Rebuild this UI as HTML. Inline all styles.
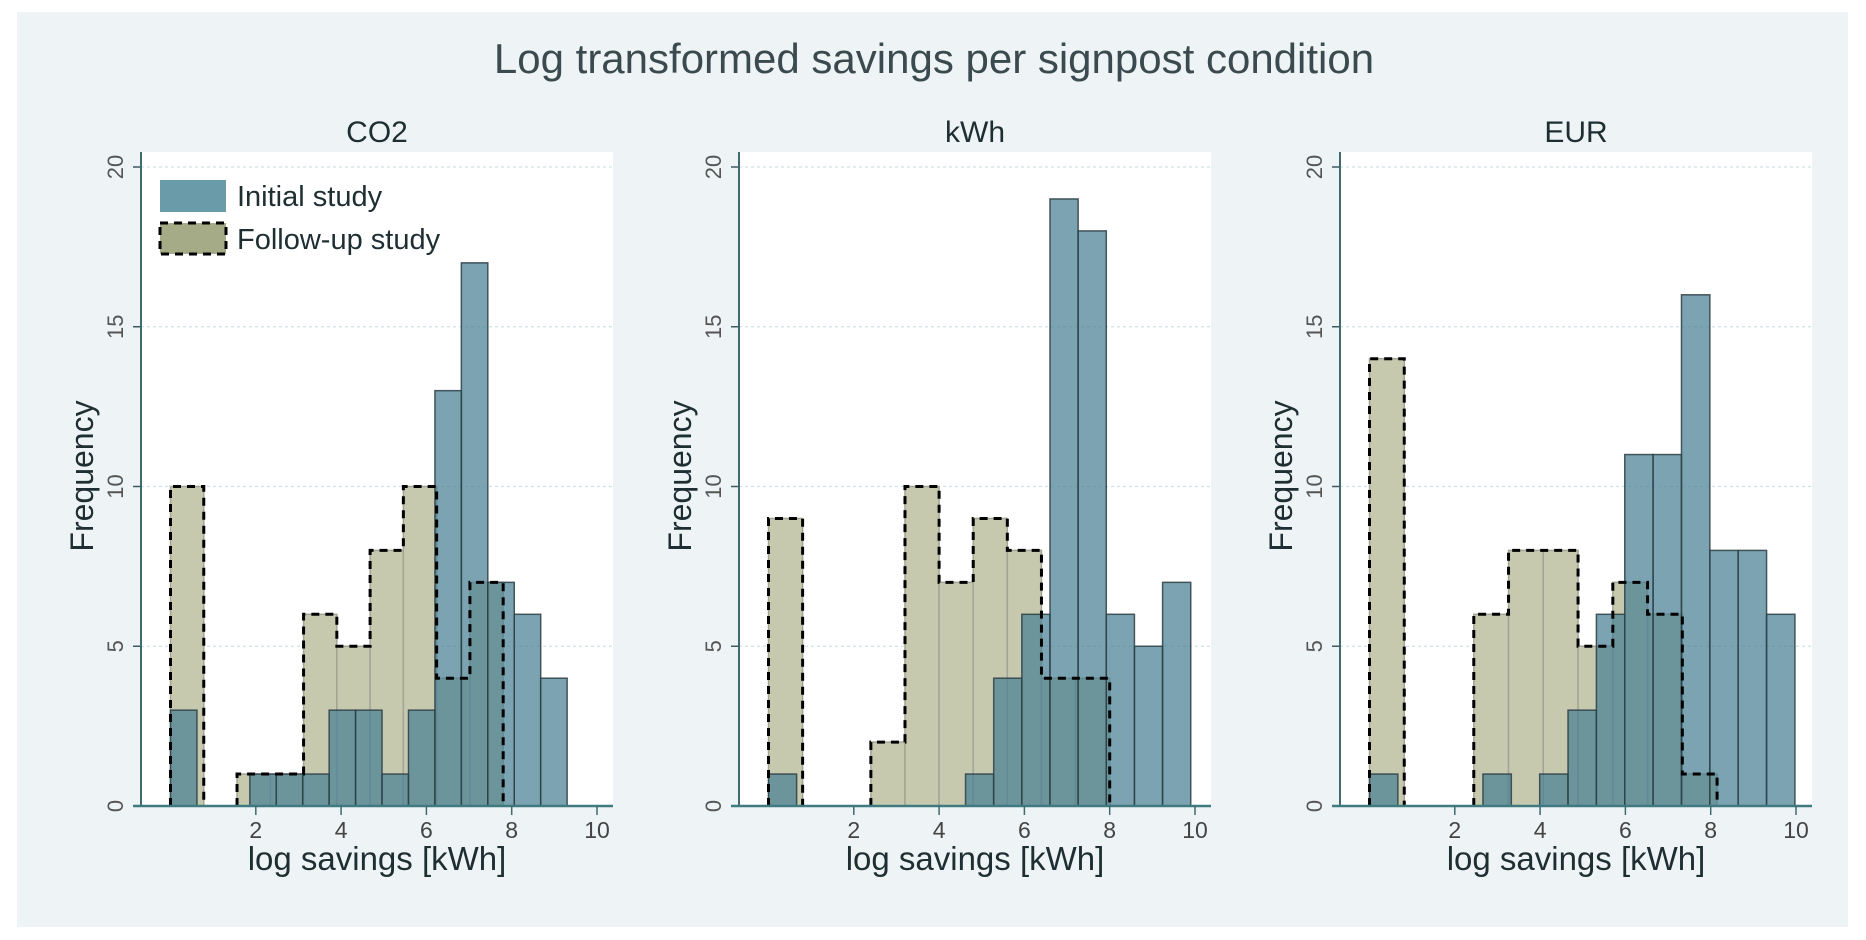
<!DOCTYPE html>
<html><head><meta charset="utf-8"><style>
body{margin:0;background:#fff;}
svg{display:block;font-family:"Liberation Sans",Arial,sans-serif;}
</style></head><body>
<svg id="chart" width="1866" height="940" viewBox="0 0 1866 940">
<rect x="17" y="12" width="1831" height="915" fill="#eef4f5"/>
<text x="934" y="73" font-size="42" fill="#3b4a4e" text-anchor="middle">Log transformed savings per signpost condition</text>
<g id="panels"></g>
</svg>
<script>
// Panel names
const panelTitles = ["CO2", "kWh", "EUR"];
// Bin widths (in log kWh units), bins start at 0
const initialBinWidth = [0.62, 0.66, 0.665];
const followBinWidth = [0.78, 0.80, 0.815];
// Initial study frequencies per bin
const initialCO2 = [3,0,0,1,1,1,3,3,1,3,13,17,7,6,4];
const initialKWh = [1,0,0,0,0,0,0,1,4,6,19,18,6,5,7];
const initialEUR = [1,0,0,0,1,0,1,3,6,11,11,16,8,8,6];
// Follow-up study frequencies per bin
const followCO2 = [10,0,1,1,6,5,8,10,4,7];
const followKWh = [9,0,0,2,10,7,9,8,4,4];
const followEUR = [14,0,0,6,8,8,5,7,6,1];
// Axis ticks
const xTicks = [2,4,6,8,10];
const yTicks = [0,5,10,15,20];

const initialSeries = [initialCO2, initialKWh, initialEUR];
const followSeries = [followCO2, followKWh, followEUR];
const NS = "http://www.w3.org/2000/svg";
const root = document.getElementById("panels");
const axisLeft = [141, 739, 1340];
function mk(tag, attrs, parent){
  const e = document.createElementNS(NS, tag);
  for (const k in attrs) e.setAttribute(k, attrs[k]);
  parent.appendChild(e);
  return e;
}
const baseY = 806, unitY = (806 - 167) / 20, unitX = 42.65;
for (let p = 0; p < 3; p++) {
  const ax = axisLeft[p];
  const x0 = ax + 29.5;
  const sx = v => x0 + v * unitX;
  const sy = v => baseY - v * unitY;
  const right = ax + 472;
  const g = mk("g", {}, root);
  
  
  const bg = mk("rect", {x: ax, y: 152, width: right - ax, height: baseY - 152, fill: "#ffffff"}, g);
  
  
  const cx = (ax + right) / 2;
  const st = mk("text", {x: cx, y: 142, "font-size": 30, fill: "#1e2e32", "text-anchor": "middle"}, g);
  st.textContent = panelTitles[p];
  
  
  yTicks.forEach(t => {
    if (t > 0) {
      const gl = mk("line", {x1: ax, x2: right, y1: sy(t), y2: sy(t), stroke: "#cfe3e6", "stroke-width": 1.2, "stroke-dasharray": "3 3"}, g);
      
      
    }
    const tk = mk("line", {x1: ax - 8, x2: ax, y1: sy(t), y2: sy(t), stroke: "#3e5a60", "stroke-width": 1.5}, g);
    
    
    const lb = mk("text", {x: 0, y: 0, "font-size": 22, fill: "#555", "text-anchor": "middle", transform: `translate(${ax - 18},${sy(t)}) rotate(-90)`}, g);
    lb.textContent = t;
    
    
  });
  const fw = followBinWidth[p], fv = followSeries[p];
  fv.forEach((v, i) => {
    if (v <= 0) return;
    const r = mk("rect", {x: sx(i * fw), y: sy(v), width: sx((i + 1) * fw) - sx(i * fw), height: baseY - sy(v), fill: "#c6c9ae", stroke: "#a3a496", "stroke-width": 1.5}, g);
    
    
  });
  const iw = initialBinWidth[p], iv = initialSeries[p];
  iv.forEach((v, i) => {
    if (v <= 0) return;
    const r = mk("rect", {x: sx(i * iw), y: sy(v), width: sx((i + 1) * iw) - sx(i * iw), height: baseY - sy(v), fill: "rgba(72,128,148,0.72)", stroke: "rgba(45,62,68,0.85)", "stroke-width": 1.5}, g);
    
    
  });
  let d = "";
  for (let i = 0; i < fv.length; i++) {
    if (fv[i] <= 0) continue;
    const prev = i > 0 ? fv[i - 1] : 0;
    const xa = sx(i * fw), xb = sx((i + 1) * fw);
    if (prev <= 0) d += `M${xa},${baseY}L${xa},${sy(fv[i])}`;
    else d += `L${xa},${sy(fv[i])}`;
    d += `L${xb},${sy(fv[i])}`;
    const next = i + 1 < fv.length ? fv[i + 1] : 0;
    if (next <= 0) d += `L${xb},${baseY}`;
    else d += `L${xb},${sy(next)}`;
  }
  const env = mk("path", {d: d, fill: "none", stroke: "#000", "stroke-width": 3, "stroke-dasharray": "8 6"}, g);
  
  
  const ya = mk("line", {x1: ax, x2: ax, y1: 152, y2: baseY, stroke: "#3e6a70", "stroke-width": 2}, g);
  
  
  const xa = mk("line", {x1: ax - 8, x2: right, y1: baseY, y2: baseY, stroke: "#3e7a80", "stroke-width": 2.5}, g);
  
  
  xTicks.forEach(t => {
    const tk = mk("line", {x1: sx(t), x2: sx(t), y1: baseY, y2: baseY + 9, stroke: "#3e6a70", "stroke-width": 1.5}, g);
    
    
    const lb = mk("text", {x: sx(t), y: 838, "font-size": 23, fill: "#444", "text-anchor": "middle"}, g);
    lb.textContent = t;
    
    
  });
  const xt = mk("text", {x: cx, y: 870, "font-size": 33, fill: "#1e2e32", "text-anchor": "middle"}, g);
  xt.textContent = "log savings [kWh]";
  
  
  const yt = mk("text", {x: 0, y: 0, "font-size": 32, fill: "#1e2e32", "text-anchor": "middle", transform: `translate(${ax - 48},476) rotate(-90)`}, g);
  yt.textContent = "Frequency";
  
  
  if (p === 0) {
    const lg = mk("g", {}, g);
    
    
    const s1 = mk("rect", {x: 160, y: 180, width: 66, height: 32, fill: "#6a9ba8"}, lg);
    
    
    const t1 = mk("text", {x: 237, y: 206, "font-size": 29, fill: "#1e2e32"}, lg);
    t1.textContent = "Initial study";
    
    
    const s2 = mk("rect", {x: 160, y: 223, width: 66, height: 31, fill: "#a5ab86", stroke: "#000", "stroke-width": 3, "stroke-dasharray": "8 6"}, lg);
    
    
    const t2 = mk("text", {x: 237, y: 249, "font-size": 29, fill: "#1e2e32"}, lg);
    t2.textContent = "Follow-up study";
    
    
  }
}
</script>
</body></html>
